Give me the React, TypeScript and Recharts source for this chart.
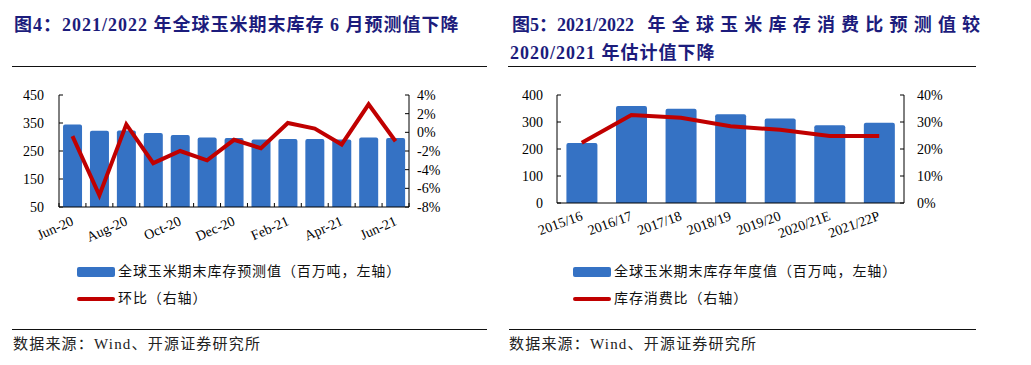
import React from 'react';
import { ComposedChart, Bar, Line, XAxis, YAxis } from 'recharts';

// 图4：月度期末库存预测 + 环比
const months = ['Jun-20', 'Jul-20', 'Aug-20', 'Sep-20', 'Oct-20', 'Nov-20', 'Dec-20', 'Jan-21', 'Feb-21', 'Mar-21', 'Apr-21', 'May-21', 'Jun-21'];
const monthStock = [345, 322, 323, 314, 307, 298, 296, 291, 293, 293, 291, 298, 296];
const monthChange = [-0.4, -6.75, 0.85, -3.3, -2.0, -3.0, -0.8, -1.7, 1.0, 0.4, -1.3, 3.0, -0.95];
const leftTicks = [50, 150, 250, 350, 450];
const pctTicksLeft = [-8, -6, -4, -2, 0, 2, 4];

// 图5：年度期末库存 + 库存消费比
const seasons = ['2015/16', '2016/17', '2017/18', '2018/19', '2019/20', '2020/21E', '2021/22P'];
const seasonStock = [222, 359, 349, 329, 313, 288, 297];
const stockRatio = [22.3, 32.6, 31.6, 28.4, 27.1, 24.8, 24.8];
const rightTicks = [0, 100, 200, 300, 400];
const pctTicksRight = [0, 10, 20, 30, 40];

const BLUE = '#3572c4';
const RED = '#c00000';
const NAVY = '#1c1c7c';
const SERIF = "'Liberation Serif', 'Noto Sans CJK SC', serif";

const leftData = months.map((m, i) => ({ m, stock: monthStock[i], chg: monthChange[i] }));
const rightData = seasons.map((s, i) => ({ s, stock: seasonStock[i], ratio: stockRatio[i] }));

const tickStyle = { fontFamily: SERIF, fontSize: 14, fill: '#000' };

const SlantTick = (props: any) => {
  const { x, y, payload, angle, offset, index, every, marks, count } = props;
  const half = payload && payload.offset ? payload.offset : 13.5;
  const showLabel = index % (every || 1) === 0;
  return (
    <g>
      {marks && <line x1={x - half} x2={x - half} y1={y} y2={y - 4} stroke="#000" />}
      {marks && index === count - 1 && <line x1={x + half} x2={x + half} y1={y} y2={y - 4} stroke="#000" />}
      {showLabel && (
        <g transform={`translate(${x},${y + offset})`}>
          <text textAnchor="end" dy="0.35em" transform={`rotate(${angle})`} {...tickStyle}>
            {payload.value}
          </text>
        </g>
      )}
    </g>
  );
};

const abs = (left: number, top: number, extra: React.CSSProperties = {}): React.CSSProperties => ({
  position: 'absolute',
  left,
  top,
  ...extra,
});

const Rule = ({ left, width, top }: { left: number; width: number; top: number }) => (
  <div style={abs(left, top, { width, height: 1, background: '#111' })} />
);

const legendText: React.CSSProperties = {
  fontSize: 14,
  lineHeight: '18px',
  letterSpacing: 0.9,
  fontFamily: SERIF,
  color: '#111',
  whiteSpace: 'nowrap',
};

const LegendBlock = ({ left, bar, line }: { left: number; bar: string; line: string }) => (
  <>
    <div style={abs(left, 267, { width: 38, height: 10, background: BLUE, borderRadius: 2 })} />
    <div style={abs(left + 41, 263, legendText)}>{bar}</div>
    <div style={abs(left, 297, { width: 38, height: 3.5, background: RED, borderRadius: 2 })} />
    <div style={abs(left + 41, 290, legendText)}>{line}</div>
  </>
);

const Source = ({ left }: { left: number }) => (
  <div style={abs(left, 335, { fontSize: 15, lineHeight: '18px', letterSpacing: 1.2, fontFamily: SERIF, color: '#222', whiteSpace: 'nowrap' })}>
    数据来源：Wind、开源证券研究所
  </div>
);

export default function App() {
  const titleStyle: React.CSSProperties = {
    fontSize: 18,
    lineHeight: '22px',
    fontWeight: 'bold',
    fontFamily: SERIF,
    color: NAVY,
    whiteSpace: 'nowrap',
  };

  return (
    <div style={{ position: 'absolute', left: 0, top: 0, width: 1031, height: 365, background: '#fff', overflow: 'hidden' }}>
      {/* titles */}
      <div style={{ ...abs(14, 14), ...titleStyle, letterSpacing: 1 }}>图4：2021/2022 年全球玉米期末库存 6 月预测值下降</div>
      <div style={{ ...abs(512, 14), ...titleStyle }}>
        图5：2021/2022&nbsp;&nbsp;&nbsp;<span style={{ letterSpacing: 6.2 }}>年全球玉米库存消费比预测值较</span>
      </div>
      <div style={{ ...abs(510, 42), ...titleStyle, letterSpacing: 1 }}>2020/2021 年估计值下降</div>
      <Rule left={12} width={475} top={66} />
      <Rule left={508} width={468} top={66} />

      {/* left chart */}
      <div style={abs(0, 85)}>
        <ComposedChart width={460} height={165} data={leftData} margin={{ top: 10, right: 6, left: 0, bottom: 3 }} barCategoryGap="15%">
          <XAxis
            dataKey="m"
            height={40}
            interval={0}
            stroke="#000"
            tickLine={false}
            tickSize={0}
            tickMargin={0}
            tick={(p: any) => <SlantTick {...p} angle={-24} offset={13} every={2} marks count={months.length} />}
          />
          <YAxis
            yAxisId="l"
            width={59}
            domain={[50, 450]}
            ticks={leftTicks}
            interval={0}
            tickSize={-4}
            tickMargin={19}
            stroke="#000"
            tick={tickStyle}
          />
          <YAxis
            yAxisId="r"
            orientation="right"
            width={45}
            domain={[-8, 4]}
            ticks={pctTicksLeft}
            interval={0}
            tickFormatter={(v: number) => `${v}%`}
            tickSize={-4}
            tickMargin={12}
            stroke="#000"
            tick={tickStyle}
          />
          <Bar yAxisId="l" dataKey="stock" fill={BLUE} radius={[2, 2, 0, 0]} isAnimationActive={false} />
          <Line yAxisId="r" dataKey="chg" stroke={RED} strokeWidth={4} dot={false} isAnimationActive={false} />
        </ComposedChart>
      </div>

      {/* right chart */}
      <div style={abs(500, 85)}>
        <ComposedChart width={460} height={165} data={rightData} margin={{ top: 10, right: 6, left: 0, bottom: 3 }} barCategoryGap="19%">
          <XAxis
            dataKey="s"
            height={44}
            interval={0}
            stroke="#000"
            tickLine={false}
            tickSize={0}
            tickMargin={0}
            tick={(p: any) => <SlantTick {...p} angle={-20} offset={12} every={1} />}
          />
          <YAxis
            yAxisId="l"
            width={57}
            domain={[0, 400]}
            ticks={rightTicks}
            interval={0}
            tickSize={-4}
            tickMargin={18}
            stroke="#000"
            tick={tickStyle}
          />
          <YAxis
            yAxisId="r"
            orientation="right"
            width={50}
            domain={[0, 40]}
            ticks={pctTicksRight}
            interval={0}
            tickFormatter={(v: number) => `${v}%`}
            tickSize={-4}
            tickMargin={17}
            stroke="#000"
            tick={tickStyle}
          />
          <Bar yAxisId="l" dataKey="stock" fill={BLUE} radius={[2, 2, 0, 0]} isAnimationActive={false} />
          <Line yAxisId="r" dataKey="ratio" stroke={RED} strokeWidth={4} dot={false} isAnimationActive={false} />
        </ComposedChart>
      </div>

      <LegendBlock left={77} bar="全球玉米期末库存预测值（百万吨，左轴）" line="环比（右轴）" />
      <LegendBlock left={573} bar="全球玉米期末库存年度值（百万吨，左轴）" line="库存消费比（右轴）" />

      <Rule left={12} width={475} top={329} />
      <Rule left={509} width={467} top={329} />
      <Source left={13} />
      <Source left={509} />
    </div>
  );
}
